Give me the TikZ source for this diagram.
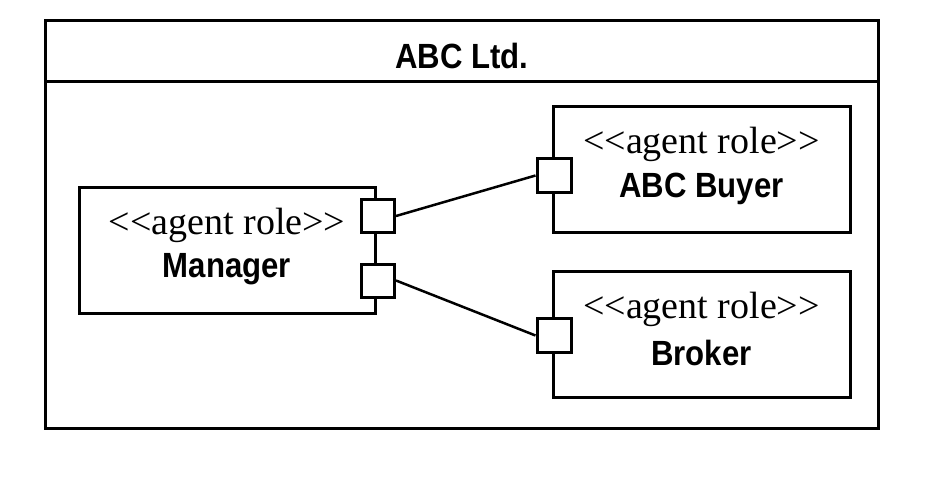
\documentclass[tikz,border=0pt]{standalone}
\usepackage{fontspec}
\setmainfont{Liberation Serif}
\newfontfamily\headfont[FakeStretch=0.89]{Liberation Sans}
\newcommand{\stereotxt}{<{}<agent role>{}>}
\begin{document}
\begin{tikzpicture}[x=1pt,y=-1pt,
  frame/.style={draw,line width=3pt,fill=white},
  rolebox/.style={draw,line width=3pt,minimum width=296pt,minimum height=126pt,inner sep=0pt},
  portbox/.style={draw,line width=3pt,fill=white,minimum size=33pt,inner sep=0pt},
  stereo/.style={font=\fontsize{38}{38}\selectfont,inner sep=0pt},
  rname/.style={font=\headfont\bfseries\fontsize{35}{35}\selectfont,inner sep=0pt},
  conn/.style={line width=2.5pt}]
\useasboundingbox (0,0) rectangle (935,480);
\draw[frame] (45.5,20.7) rectangle (878,428.5);
\draw[line width=3pt] (45.5,81.7) -- (878,81.7);
\node[rname] (title) at (462,56) {ABC Ltd.};
% boxes
\node[rolebox] (mgr) at (227,250.5) {};
\node[rolebox,minimum width=297pt] (buyer) at (701.5,169.5) {};
\node[rolebox,minimum width=297pt] (broker) at (701.5,334.5) {};
% labels
\node[stereo] (mgrS) at (227,225) {\stereotxt};
\node[rname] (mgrN) at (227,269) {Manager};
\node[stereo] (buyS) at (701.5,144) {\stereotxt};
\node[rname] (buyN) at (701.5,189) {ABC Buyer};
\node[stereo] (broS) at (701.5,309) {\stereotxt};
\node[rname] (broN) at (701.5,353) {Broker};
% ports
\node[portbox] (p1) at (378,216) {};
\node[portbox] (p2) at (378,280.5) {};
\node[portbox,minimum size=34pt] (p3) at (554,175.5) {};
\node[portbox,minimum size=34pt] (p4) at (554,335.5) {};
% connectors
\draw[conn] (p1.east) -- (p3.west);
\draw[conn] (p2.east) -- (p4.west);
\end{tikzpicture}
\end{document}
